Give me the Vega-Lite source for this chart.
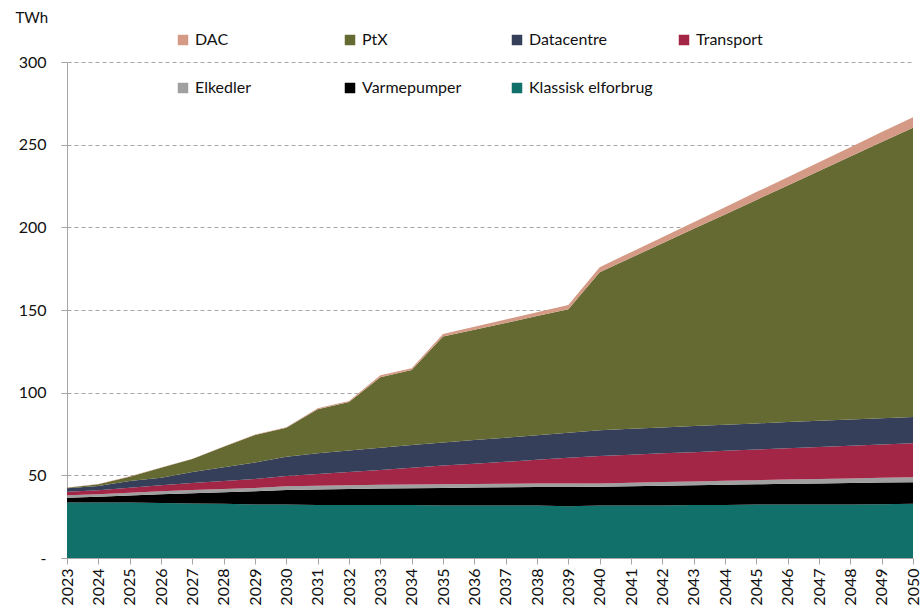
{
  "$schema": "https://vega.github.io/schema/vega-lite/v6.json",
  "width": 846,
  "height": 496,
  "autosize": {"type": "none"},
  "padding": {"left": 67, "top": 62, "right": 11, "bottom": 54},
  "background": "white",
  "config": {
    "font": "Lato",
    "view": {"stroke": null},
    "axis": {"labelFont": "Lato", "titleFont": "Lato", "labelColor": "#111", "titleColor": "#111"},
    "legend": {"labelFont": "Lato"}
  },
  "data": {
    "values": [
      {"year": "2023", "Klassisk elforbrug": 33.5, "Varmepumper": 3.0, "Elkedler": 1.5, "Transport": 2.0, "Datacentre": 2.2, "PtX": 0.3, "DAC": 0.2},
      {"year": "2024", "Klassisk elforbrug": 33.5, "Varmepumper": 3.5, "Elkedler": 1.6, "Transport": 2.4, "Datacentre": 2.5, "PtX": 1.1, "DAC": 0.2},
      {"year": "2025", "Klassisk elforbrug": 33.5, "Varmepumper": 4.3, "Elkedler": 1.7, "Transport": 3.0, "Datacentre": 4.1, "PtX": 2.6, "DAC": 0.2},
      {"year": "2026", "Klassisk elforbrug": 33.3, "Varmepumper": 5.2, "Elkedler": 1.8, "Transport": 3.7, "Datacentre": 4.6, "PtX": 6.0, "DAC": 0.2},
      {"year": "2027", "Klassisk elforbrug": 33.0, "Varmepumper": 6.2, "Elkedler": 1.9, "Transport": 4.2, "Datacentre": 6.7, "PtX": 7.9, "DAC": 0.2},
      {"year": "2028", "Klassisk elforbrug": 32.8, "Varmepumper": 7.0, "Elkedler": 2.0, "Transport": 4.7, "Datacentre": 8.4, "PtX": 12.4, "DAC": 0.2},
      {"year": "2029", "Klassisk elforbrug": 32.3, "Varmepumper": 8.0, "Elkedler": 2.1, "Transport": 5.4, "Datacentre": 9.9, "PtX": 16.7, "DAC": 0.3},
      {"year": "2030", "Klassisk elforbrug": 32.3, "Varmepumper": 8.8, "Elkedler": 2.3, "Transport": 6.2, "Datacentre": 11.7, "PtX": 17.5, "DAC": 0.3},
      {"year": "2031", "Klassisk elforbrug": 32.0, "Varmepumper": 9.4, "Elkedler": 2.3, "Transport": 7.1, "Datacentre": 12.5, "PtX": 26.7, "DAC": 0.5},
      {"year": "2032", "Klassisk elforbrug": 32.0, "Varmepumper": 9.7, "Elkedler": 2.3, "Transport": 8.0, "Datacentre": 13.0, "PtX": 29.3, "DAC": 0.7},
      {"year": "2033", "Klassisk elforbrug": 32.0, "Varmepumper": 10.0, "Elkedler": 2.3, "Transport": 9.0, "Datacentre": 13.4, "PtX": 42.6, "DAC": 1.3},
      {"year": "2034", "Klassisk elforbrug": 32.0, "Varmepumper": 10.2, "Elkedler": 2.2, "Transport": 10.2, "Datacentre": 13.7, "PtX": 45.4, "DAC": 1.1},
      {"year": "2035", "Klassisk elforbrug": 31.8, "Varmepumper": 10.6, "Elkedler": 2.2, "Transport": 11.3, "Datacentre": 13.9, "PtX": 64.1, "DAC": 1.6},
      {"year": "2036", "Klassisk elforbrug": 31.8, "Varmepumper": 10.8, "Elkedler": 2.1, "Transport": 12.3, "Datacentre": 14.3, "PtX": 66.7, "DAC": 1.9},
      {"year": "2037", "Klassisk elforbrug": 31.8, "Varmepumper": 11.0, "Elkedler": 2.1, "Transport": 13.3, "Datacentre": 14.6, "PtX": 69.4, "DAC": 2.1},
      {"year": "2038", "Klassisk elforbrug": 31.8, "Varmepumper": 11.2, "Elkedler": 2.0, "Transport": 14.4, "Datacentre": 14.9, "PtX": 72.0, "DAC": 2.3},
      {"year": "2039", "Klassisk elforbrug": 31.3, "Varmepumper": 11.7, "Elkedler": 2.0, "Transport": 15.6, "Datacentre": 15.2, "PtX": 74.6, "DAC": 2.6},
      {"year": "2040", "Klassisk elforbrug": 31.8, "Varmepumper": 11.3, "Elkedler": 2.0, "Transport": 16.6, "Datacentre": 15.5, "PtX": 95.6, "DAC": 3.1},
      {"year": "2041", "Klassisk elforbrug": 31.8, "Varmepumper": 11.6, "Elkedler": 2.1, "Transport": 17.0, "Datacentre": 15.7, "PtX": 103.4, "DAC": 3.4},
      {"year": "2042", "Klassisk elforbrug": 31.8, "Varmepumper": 11.9, "Elkedler": 2.2, "Transport": 17.4, "Datacentre": 15.7, "PtX": 111.3, "DAC": 3.7},
      {"year": "2043", "Klassisk elforbrug": 32.0, "Varmepumper": 12.0, "Elkedler": 2.3, "Transport": 17.7, "Datacentre": 15.8, "PtX": 119.3, "DAC": 4.0},
      {"year": "2044", "Klassisk elforbrug": 32.0, "Varmepumper": 12.3, "Elkedler": 2.4, "Transport": 18.1, "Datacentre": 15.8, "PtX": 127.2, "DAC": 4.3},
      {"year": "2045", "Klassisk elforbrug": 32.3, "Varmepumper": 12.3, "Elkedler": 2.5, "Transport": 18.5, "Datacentre": 15.8, "PtX": 135.2, "DAC": 4.7},
      {"year": "2046", "Klassisk elforbrug": 32.3, "Varmepumper": 12.6, "Elkedler": 2.6, "Transport": 18.9, "Datacentre": 15.8, "PtX": 143.1, "DAC": 5.0},
      {"year": "2047", "Klassisk elforbrug": 32.3, "Varmepumper": 12.8, "Elkedler": 2.7, "Transport": 19.4, "Datacentre": 15.8, "PtX": 151.1, "DAC": 5.3},
      {"year": "2048", "Klassisk elforbrug": 32.3, "Varmepumper": 13.0, "Elkedler": 2.8, "Transport": 19.8, "Datacentre": 15.8, "PtX": 159.1, "DAC": 5.6},
      {"year": "2049", "Klassisk elforbrug": 32.5, "Varmepumper": 13.1, "Elkedler": 2.9, "Transport": 20.2, "Datacentre": 15.8, "PtX": 167.1, "DAC": 6.0},
      {"year": "2050", "Klassisk elforbrug": 32.8, "Varmepumper": 13.0, "Elkedler": 3.0, "Transport": 20.6, "Datacentre": 15.9, "PtX": 175.0, "DAC": 6.3}
    ]
  },
  "transform": [
    {"fold": ["Klassisk elforbrug", "Varmepumper", "Elkedler", "Transport", "Datacentre", "PtX", "DAC"], "as": ["serie", "TWh"]},
    {"calculate": "indexof(['Klassisk elforbrug','Varmepumper','Elkedler','Transport','Datacentre','PtX','DAC'], datum.serie)", "as": "stackorder"}
  ],
  "mark": {"type": "area", "opacity": 1},
  "encoding": {
    "x": {
      "field": "year",
      "type": "ordinal",
      "scale": {"type": "point", "padding": 0},
      "axis": {
        "title": null,
        "labelAngle": -90,
        "labelAlign": "right",
        "labelBaseline": "middle",
        "labelFontSize": 16,
        "labelPadding": 4,
        "tickSize": 6,
        "tickColor": "#a6a6a6",
        "domainColor": "#a6a6a6",
        "grid": false
      }
    },
    "y": {
      "field": "TWh",
      "type": "quantitative",
      "stack": "zero",
      "scale": {"domain": [0, 300], "nice": false},
      "axis": {
        "title": "TWh",
        "titleAngle": 0,
        "titleX": -52,
        "titleY": -45,
        "titleAlign": "left",
        "titleBaseline": "middle",
        "titleFontSize": 15,
        "titleFontWeight": "normal",
        "values": [0, 50, 100, 150, 200, 250, 300],
        "labelExpr": "datum.value == 0 ? '-' : datum.label",
        "labelFontSize": 16,
        "labelPadding": 15,
        "tickSize": 6,
        "tickColor": "#a6a6a6",
        "domainColor": "#a6a6a6",
        "grid": true,
        "gridColor": "#a6a6a6",
        "gridDash": [4, 3],
        "gridWidth": 1
      }
    },
    "color": {
      "field": "serie",
      "type": "nominal",
      "scale": {
        "domain": ["DAC", "PtX", "Datacentre", "Transport", "Elkedler", "Varmepumper", "Klassisk elforbrug"],
        "range": ["#d49a86", "#646a31", "#363f5a", "#a32646", "#a0a0a0", "#000000", "#11706a"]
      },
      "legend": {
        "title": null,
        "orient": "none",
        "legendX": 108,
        "legendY": -30,
        "direction": "horizontal",
        "columns": 4,
        "gridAlign": "all",
        "symbolType": "square",
        "symbolSize": 110,
        "symbolStrokeWidth": 0,
        "symbolOpacity": 1,
        "labelFontSize": 16,
        "labelColor": "#111",
        "labelOffset": 4,
        "labelLimit": 200,
        "columnPadding": 23,
        "rowPadding": 32
      }
    },
    "order": {"field": "stackorder", "type": "quantitative", "sort": "ascending"}
  }
}
